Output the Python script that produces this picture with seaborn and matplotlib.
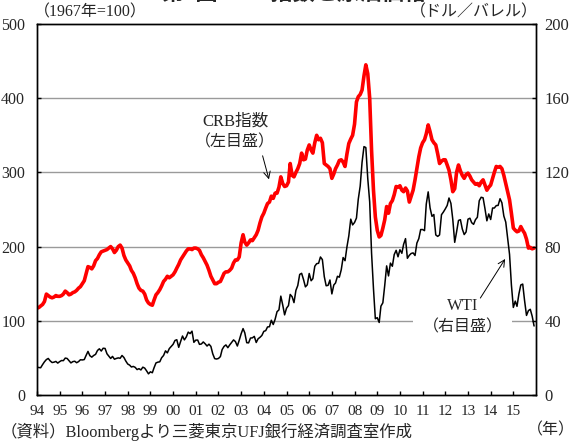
import matplotlib
matplotlib.use("Agg")
import matplotlib.pyplot as plt
import pandas as pd
import seaborn as sns

# 月次データ (1994年1月～2015年12月)
months = pd.date_range("1994-01-01", "2015-12-01", freq="MS")

# CRB指数 (1967年=100, 左目盛)
crb = [
    117, 118, 120, 122, 126, 136, 134, 132, 131, 132, 134, 133,  # 1994
    133, 134, 136, 140, 138, 135, 136, 138, 139, 141, 144, 146,  # 1995
    150, 154, 163, 173, 172, 170, 174, 181, 184, 189, 193, 194,  # 1996
    195, 196, 198, 200, 197, 192, 195, 200, 202, 198, 188, 182,  # 1997
    178, 174, 168, 164, 158, 150, 144, 141, 140, 136, 128, 124,  # 1998
    122, 121, 128, 135, 138, 142, 147, 153, 156, 160, 158, 160,  # 1999
    162, 166, 171, 176, 182, 186, 190, 194, 197, 197, 196, 198,  # 2000
    198, 197, 195, 189, 185, 180, 175, 168, 160, 155, 150, 150,  # 2001
    152, 153, 158, 164, 166, 166, 168, 171, 178, 182, 182, 186,  # 2002
    205, 216, 206, 202, 205, 209, 208, 212, 216, 222, 232, 240,  # 2003
    245, 252, 258, 260, 268, 265, 272, 272, 280, 294, 285, 281,  # 2004
    282, 287, 312, 296, 294, 300, 305, 312, 326, 317, 318, 330,  # 2005
    337, 330, 326, 340, 350, 344, 346, 340, 312, 310, 308, 305,  # 2006
    292, 298, 305, 310, 316, 317, 314, 308, 325, 339, 345, 350,  # 2007
    365, 395, 402, 405, 411, 430, 445, 433, 400, 330, 276, 240,  # 2008
    222, 213, 215, 225, 236, 254, 245, 258, 262, 270, 281, 280,  # 2009
    282, 276, 274, 279, 275, 260, 268, 276, 290, 305, 321, 333,  # 2010
    340, 344, 352, 364, 355, 344, 340, 337, 325, 312, 315, 317,  # 2011
    317, 310, 303, 290, 274, 278, 300, 310, 302, 296, 292, 297,  # 2012
    299, 295, 290, 287, 284, 285, 282, 287, 290, 283, 276, 280,  # 2013
    283, 292, 300, 308, 307, 308, 305, 296, 285, 275, 263, 245,  # 2014
    225, 222, 220, 221, 227, 222, 218, 210, 198, 199, 197, 198,  # 2015
]

# WTI (ドル／バレル, 右目盛)
wti = [
    15.0, 14.8, 14.7, 16.4, 17.9, 19.1, 19.7, 18.4, 17.5, 17.7, 18.1, 17.2,  # 1994
    18.0, 18.6, 18.5, 19.9, 19.7, 18.5, 17.3, 18.0, 18.2, 17.4, 18.0, 19.0,  # 1995
    18.9, 19.1, 21.3, 23.5, 21.2, 20.4, 21.3, 21.9, 24.0, 24.9, 23.7, 25.2,  # 1996
    25.1, 22.2, 21.0, 19.7, 20.8, 19.3, 19.7, 20.0, 19.8, 21.3, 20.2, 18.3,  # 1997
    16.7, 16.1, 15.1, 15.4, 14.9, 13.7, 14.2, 13.5, 15.0, 14.5, 13.0, 11.4,  # 1998
    12.5, 12.0, 14.7, 17.3, 17.7, 17.9, 20.1, 21.3, 23.8, 22.7, 25.0, 26.1,  # 1999
    27.3, 29.4, 29.8, 25.7, 28.8, 31.8, 29.7, 31.3, 33.9, 33.1, 34.4, 28.4,  # 2000
    29.6, 29.6, 27.3, 27.5, 28.6, 27.6, 26.4, 27.4, 26.2, 22.2, 19.6, 19.4,  # 2001
    19.7, 20.7, 24.5, 26.2, 27.0, 25.5, 27.0, 28.4, 29.7, 28.8, 26.4, 29.5,  # 2002
    33.0, 35.8, 33.5, 28.2, 28.1, 30.7, 30.8, 31.6, 28.3, 30.3, 31.1, 32.1,  # 2003
    34.3, 34.7, 36.7, 36.8, 40.3, 38.0, 40.8, 44.9, 45.9, 53.3, 48.5, 43.2,  # 2004
    46.8, 48.2, 54.2, 53.0, 49.8, 56.4, 59.0, 65.0, 65.6, 62.3, 58.3, 59.4,  # 2005
    65.5, 61.6, 62.7, 69.4, 70.8, 71.0, 74.4, 73.0, 63.8, 58.9, 59.1, 62.0,  # 2006
    54.5, 59.3, 60.4, 64.0, 63.5, 67.5, 74.1, 72.4, 79.9, 85.8, 94.8, 91.7,  # 2007
    93.0, 95.4, 105.5, 112.6, 125.4, 133.9, 133.4, 116.7, 104.1, 76.6, 57.3, 41.1,  # 2008
    41.7, 39.1, 47.9, 49.7, 59.0, 69.6, 64.2, 71.1, 69.4, 75.7, 78.0, 74.5,  # 2009
    78.3, 76.4, 81.2, 84.3, 73.7, 75.3, 76.3, 76.6, 75.2, 81.9, 84.3, 89.2,  # 2010
    89.2, 88.6, 102.9, 109.5, 100.9, 96.3, 97.3, 86.3, 85.5, 86.3, 97.2, 98.6,  # 2011
    100.3, 102.2, 106.2, 103.3, 94.7, 82.3, 87.9, 94.1, 94.5, 89.5, 86.5, 87.9,  # 2012
    94.8, 95.3, 92.9, 92.0, 94.5, 95.8, 104.7, 106.6, 106.3, 100.5, 93.9, 97.6,  # 2013
    94.6, 100.8, 100.8, 102.1, 102.2, 105.8, 103.6, 96.5, 93.2, 84.4, 75.8, 59.3,  # 2014
    47.2, 50.6, 47.8, 54.5, 59.3, 59.8, 50.9, 42.9, 45.5, 46.2, 42.4, 37.2,  # 2015
]

year_ticks = pd.date_range("1994-01-01", "2015-01-01", freq="YS")
year_labels = ["94", "95", "96", "97", "98", "99", "00", "01", "02", "03", "04",
               "05", "06", "07", "08", "09", "10", "11", "12", "13", "14", "15"]
left_ticks = [0, 100, 200, 300, 400, 500]
right_ticks = [0, 40, 80, 120, 160, 200]

sns.set_theme(style="white")
FONT = ["Liberation Serif", "Noto Sans CJK JP"]
plt.rcParams["font.family"] = FONT
plt.rcParams["axes.unicode_minus"] = False

fig = plt.figure(figsize=(5.77, 4.41), dpi=100)
ax = fig.add_axes([37 / 577, 1 - 395 / 441, (536 - 37) / 577, (395 - 24) / 441])

df = pd.DataFrame({"date": months, "crb": crb, "wti": wti})

sns.lineplot(data=df, x="date", y="crb", ax=ax, color="#ff0000", linewidth=2.6)
ax.set_ylim(0, 500)
ax.set_yticks(left_ticks)
ax.set_xlim(pd.Timestamp("1994-01-01"), pd.Timestamp("2016-01-01"))
ax.set_xticks(year_ticks)
ax.set_xticklabels(year_labels)
ax.set_xlabel("")
ax.set_ylabel("")
for y in left_ticks[1:-1]:
    ax.axhline(y, color="#9a9a9a", linewidth=1.0, zorder=0)

ax2 = ax.twinx()
sns.lineplot(data=df, x="date", y="wti", ax=ax2, color="black", linewidth=1.1)
ax2.set_ylim(0, 200)
ax2.set_yticks(right_ticks)
ax2.set_ylabel("")

for a in (ax, ax2):
    for s in a.spines.values():
        s.set_color("black")
        s.set_linewidth(1.0)
ax.tick_params(axis="x", direction="in", length=3, width=1, color="black",
               labelsize=11, pad=7, bottom=True)
ax.tick_params(axis="y", direction="in", length=3, width=1, color="black",
               labelsize=11.5, pad=8.5, left=True)
ax2.tick_params(axis="y", direction="in", length=3, width=1, color="black",
                labelsize=12, pad=6, right=True)

# 注記
ax.text(pd.Timestamp("2002-09-27"), 369, "CRB指数", ha="center", va="center",
        fontsize=12, family=FONT)
ax.text(pd.Timestamp("2002-09-27"), 340, "（左目盛）", ha="center", va="center",
        fontsize=11.5, family=FONT)
ax.annotate("", xy=(pd.Timestamp("2004-04-05"), 287), xytext=(pd.Timestamp("2003-12-01"), 326),
            arrowprops=dict(arrowstyle="->", color="black", lw=0.7))

ax2.text(pd.Timestamp("2012-10-05"), 36.3, "（右目盛）", ha="center", va="center",
         fontsize=11.5, family=FONT, zorder=5,
         bbox=dict(facecolor="white", edgecolor="none", pad=7))
ax2.text(pd.Timestamp("2012-10-05"), 47.8, "WTI", ha="center", va="center",
         fontsize=12, family=FONT, zorder=6)
ax2.annotate("", xy=(pd.Timestamp("2014-09-15"), 74.6), xytext=(pd.Timestamp("2013-06-25"), 51.0),
             arrowprops=dict(arrowstyle="->", color="black", lw=0.7))

fig.text(34 / 577, 1 - 12 / 441, "（1967年=100）", ha="left", va="center",
         fontsize=11.5, family=FONT)
fig.text(538 / 577, 1 - 12 / 441, "（ドル／バレル）", ha="right", va="center",
         fontsize=11.5, family=FONT)
fig.text(1 / 577, 1 - 432 / 441, "（資料）Bloombergより三菱東京UFJ銀行経済調査室作成",
         ha="left", va="center", fontsize=11.8, family=FONT)
fig.text(575 / 577, 1 - 430 / 441, "（年）", ha="right", va="center",
         fontsize=11.5, family=FONT)
fig.text(294 / 577, 1 - 5 / 441, "第2図 CRB指数と原油価格", ha="center", va="bottom",
         fontsize=16, fontweight="bold", family=FONT)

fig.savefig("out.png", dpi=100)
